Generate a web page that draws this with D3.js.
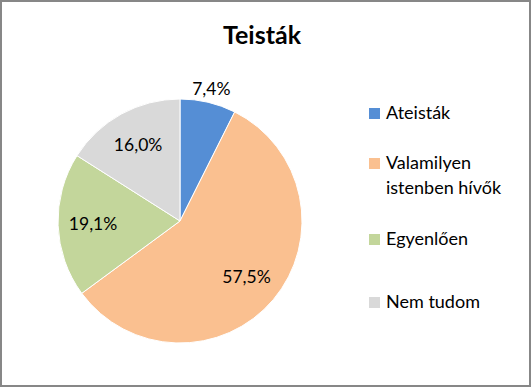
<!DOCTYPE html>
<html>
<head>
<meta charset="utf-8">
<script src="https://cdn.jsdelivr.net/npm/d3@7"></script>
<style>
  body { margin: 0; background: #fff; }
  text { font-family: Lato, "Open Sans", sans-serif; fill: #000; }
</style>
</head>
<body>
<script>
var categories = ["Ateisták", ["Valamilyen", "istenben hívők"], "Egyenlően", "Nem tudom"];
var values = [7.4, 57.5, 19.1, 16.0];
var valueLabels = ["7,4%", "57,5%", "19,1%", "16,0%"];
var colors = ["#558ED5", "#FAC090", "#C3D69B", "#D9D9D9"];
var outsideLabel = [true, false, false, false];

var svgWidth = 531;
var svgHeight = 387;
var cx = 180, cy = 221, radius = 122;

var svg = d3.select("body")
        .append("svg")
        .attr("width", svgWidth)
        .attr("height", svgHeight);

svg.append("rect")
        .attr("x", 1).attr("y", 1)
        .attr("width", svgWidth - 2).attr("height", svgHeight - 2)
        .attr("fill", "#fff")
        .attr("stroke", "#878787")
        .attr("stroke-width", 2);

svg.append("text")
        .attr("x", 262)
        .attr("y", 44)
        .attr("text-anchor", "middle")
        .attr("font-size", 25)
        .attr("font-weight", "bold")
        .text("Teisták");

var pie = d3.pie().sort(null).value(function (d) { return d; });
var arcs = pie(values);

var arc = d3.arc().innerRadius(0).outerRadius(radius);
var labelArcIn = d3.arc().innerRadius(87).outerRadius(87);
var labelArcOut = d3.arc().innerRadius(136).outerRadius(136);

var g = svg.append("g")
        .attr("transform", "translate(" + cx + "," + cy + ")");

g.selectAll("path")
        .data(arcs)
        .enter()
        .append("path")
        .attr("d", arc)
        .attr("fill", function (d, i) { return colors[i]; })
        .attr("stroke", "#fff")
        .attr("stroke-width", 1);

g.selectAll("text.lbl")
        .data(arcs)
        .enter()
        .append("text")
        .attr("class", "lbl")
        .attr("transform", function (d, i) {
            var c = (outsideLabel[i] ? labelArcOut : labelArcIn).centroid(d);
            return "translate(" + c[0] + "," + c[1] + ")";
        })
        .attr("dy", "0.35em")
        .attr("text-anchor", "middle")
        .attr("font-size", 17.5)
        .text(function (d, i) { return valueLabels[i]; });

// legend
var legendY = d3.scalePoint()
        .domain(d3.range(categories.length))
        .range([113, 302]);

var legend = svg.selectAll("g.legend")
        .data(categories)
        .enter()
        .append("g")
        .attr("class", "legend")
        .attr("transform", function (d, i) {
            return "translate(369," + legendY(i) + ")";
        });

legend.append("rect")
        .attr("x", 0)
        .attr("y", function (d) { return Array.isArray(d) ? -18 : -5; })
        .attr("width", 11)
        .attr("height", 11)
        .attr("fill", function (d, i) { return colors[i]; });

legend.append("text")
        .attr("x", 17)
        .attr("y", function (d) { return Array.isArray(d) ? -13 : 0; })
        .attr("font-size", 18)
        .each(function (d) {
            var lines = Array.isArray(d) ? d : [d];
            var t = d3.select(this);
            lines.forEach(function (line, k) {
                t.append("tspan")
                        .attr("x", 17)
                        .attr("dy", k === 0 ? "0.35em" : "1.4em")
                        .text(line);
            });
        });
</script>
</body>
</html>
